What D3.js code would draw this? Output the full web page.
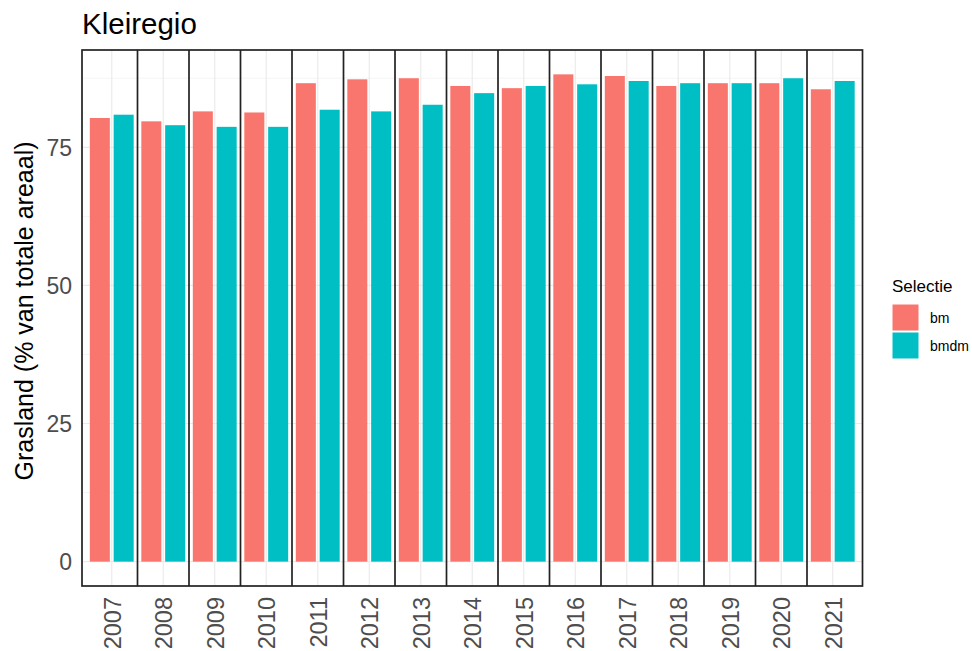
<!DOCTYPE html>
<html>
<head>
<meta charset="utf-8">
<script src="https://cdn.jsdelivr.net/npm/d3@7"></script>
<style>
  body { margin: 0; background: #fff; }
  text { font-family: "Liberation Sans", Arial, sans-serif; }
</style>
</head>
<body>
<div id="chart"></div>
<script>
// data
var years = ["2007","2008","2009","2010","2011","2012","2013","2014","2015","2016","2017","2018","2019","2020","2021"];
var series = ["bm", "bmdm"];
var bm   = [80.3, 79.7, 81.5, 81.3, 86.6, 87.3, 87.5, 86.1, 85.7, 88.2, 87.9, 86.1, 86.6, 86.6, 85.5];
var bmdm = [80.9, 79.0, 78.7, 78.7, 81.8, 81.5, 82.7, 84.8, 86.1, 86.4, 87.0, 86.6, 86.6, 87.5, 87.0];
var yTicks = [0, 25, 50, 75];
var yMinor = [12.5, 37.5, 62.5, 87.5];
var colors = ["#F8766D", "#00BFC4"];

var W = 972, H = 651;
var frame = {left: 82, right: 862.5, top: 50, bottom: 586};
var inner = {left: 86, right: 858.5};

var svg = d3.select("#chart").append("svg")
    .attr("width", W)
    .attr("height", H);

var rows = [];
years.forEach(function(yr, i) {
  rows.push({year: yr, key: "bm", value: bm[i]});
  rows.push({year: yr, key: "bmdm", value: bmdm[i]});
});

var maxV = d3.max(rows, function(d) { return d.value; });
var pad = maxV * 0.05;

var y = d3.scaleLinear()
    .domain([-pad, maxV + pad])
    .range([frame.bottom, frame.top]);

// one panel per year
var x = d3.scaleBand()
    .domain(years)
    .range([inner.left, inner.right])
    .padding(0);

var xs = d3.scaleBand()
    .domain(series)
    .range([0, x.bandwidth()])
    .paddingInner(0.16)
    .paddingOuter(0.16);

var color = d3.scaleOrdinal().domain(series).range(colors);

// grid
var grid = svg.append("g");
grid.selectAll("line.minor")
  .data(yMinor)
  .enter().append("line")
    .attr("x1", frame.left).attr("x2", frame.right)
    .attr("y1", function(d) { return y(d); })
    .attr("y2", function(d) { return y(d); })
    .attr("stroke", "#f2f2f2")
    .attr("stroke-width", 0.8);
grid.selectAll("line.major")
  .data(yTicks)
  .enter().append("line")
    .attr("x1", frame.left).attr("x2", frame.right)
    .attr("y1", function(d) { return y(d); })
    .attr("y2", function(d) { return y(d); })
    .attr("stroke", "#ebebeb")
    .attr("stroke-width", 1.2);
grid.selectAll("line.vert")
  .data(years)
  .enter().append("line")
    .attr("x1", function(d) { return x(d) + x.bandwidth() / 2; })
    .attr("x2", function(d) { return x(d) + x.bandwidth() / 2; })
    .attr("y1", frame.top).attr("y2", frame.bottom)
    .attr("stroke", "#ebebeb")
    .attr("stroke-width", 1.2);

// bars
svg.append("g")
  .selectAll("rect")
  .data(rows)
  .enter().append("rect")
    .attr("x", function(d) { return x(d.year) + xs(d.key); })
    .attr("width", xs.bandwidth())
    .attr("y", function(d) { return y(d.value); })
    .attr("height", function(d) { return y(0) - y(d.value); })
    .attr("fill", function(d) { return color(d.key); });

// panel borders
svg.append("rect")
    .attr("x", frame.left).attr("y", frame.top)
    .attr("width", frame.right - frame.left)
    .attr("height", frame.bottom - frame.top)
    .attr("fill", "none")
    .attr("stroke", "#222")
    .attr("stroke-width", 1.7);
svg.append("g")
  .selectAll("line")
  .data(years.slice(1))
  .enter().append("line")
    .attr("x1", function(d) { return x(d); })
    .attr("x2", function(d) { return x(d); })
    .attr("y1", frame.top).attr("y2", frame.bottom)
    .attr("stroke", "#222")
    .attr("stroke-width", 1.7);

// y axis labels
svg.append("g")
  .selectAll("text")
  .data(yTicks)
  .enter().append("text")
    .attr("x", 72)
    .attr("y", function(d) { return y(d); })
    .attr("dy", "0.36em")
    .attr("text-anchor", "end")
    .style("font-size", "23px")
    .style("fill", "#4d4d4d")
    .text(function(d) { return d; });

// x axis labels
svg.append("g")
  .selectAll("text")
  .data(years)
  .enter().append("text")
    .attr("transform", function(d) {
      return "translate(" + (x(d) + x.bandwidth() / 2 + 0.5) + "," + 597 + ") rotate(-90)";
    })
    .attr("dy", "0.36em")
    .attr("text-anchor", "end")
    .style("font-size", "23.5px")
    .style("fill", "#4d4d4d")
    .text(function(d) { return d; });

// axis title
svg.append("text")
    .attr("transform", "translate(33,311) rotate(-90)")
    .attr("text-anchor", "middle")
    .style("font-size", "25px")
    .style("fill", "#000")
    .text("Grasland (% van totale areaal)");

// title
svg.append("text")
    .attr("x", 82)
    .attr("y", 33.5)
    .style("font-size", "29.5px")
    .style("fill", "#000")
    .text("Kleiregio");

// legend
var legend = svg.append("g").attr("transform", "translate(892,0)");
legend.append("text")
    .attr("x", 0).attr("y", 292)
    .style("font-size", "17px")
    .text("Selectie");
var items = legend.selectAll("g.item")
  .data(series)
  .enter().append("g")
    .attr("transform", function(d, i) { return "translate(0," + (304 + i * 28) + ")"; });
items.append("rect")
    .attr("width", 27).attr("height", 27)
    .attr("fill", function(d) { return color(d); })
    .attr("stroke", "#fff")
    .attr("stroke-width", 1);
items.append("text")
    .attr("x", 38).attr("y", 14)
    .attr("dy", "0.36em")
    .style("font-size", "14px")
    .text(function(d) { return d; });
</script>
</body>
</html>
